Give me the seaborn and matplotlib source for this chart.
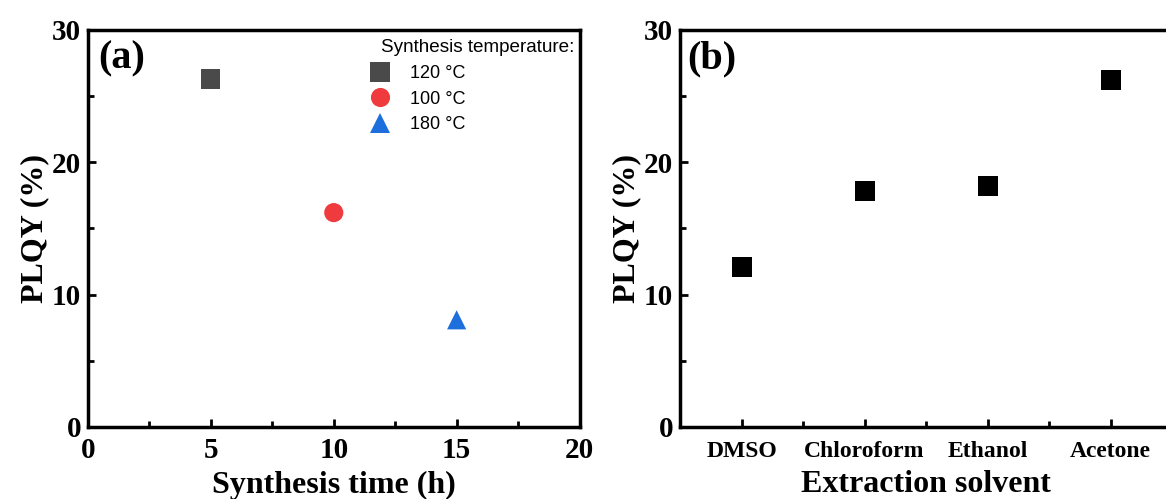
import numpy as np
import pandas as pd
import matplotlib
matplotlib.use("Agg")
import matplotlib.pyplot as plt
from matplotlib.ticker import MultipleLocator
import seaborn as sns

# panel (a): synthesis time vs PLQY
synth_time = [5, 10, 15]
plqy_a = [26.3, 16.2, 8.1]
temps = ["120 \u00b0C", "100 \u00b0C", "180 \u00b0C"]

# panel (b): extraction solvent vs PLQY
solvents = ["DMSO", "Chloroform", "Ethanol", "Acetone"]
plqy_b = [12.1, 17.8, 18.2, 26.2]

sns.set_theme(style="white")
plt.rcParams["font.family"] = ["Liberation Serif", "DejaVu Serif"]
plt.rcParams["text.color"] = "black"
plt.rcParams["axes.labelcolor"] = "black"
plt.rcParams["xtick.color"] = "black"
plt.rcParams["ytick.color"] = "black"

colors = {"120 \u00b0C": "#4a4a4a", "100 \u00b0C": "#ef3b3e", "180 \u00b0C": "#1c6fdc"}
markers = {"120 \u00b0C": "s", "100 \u00b0C": "o", "180 \u00b0C": "^"}
sans = ["Liberation Sans", "DejaVu Sans"]

fig = plt.figure(figsize=(11.66, 4.99), dpi=100)
ax1 = fig.add_axes([0.0755, 0.1443, 0.4215, 0.7956])
ax2 = fig.add_axes([0.5832, 0.1443, 0.4220, 0.7956])

df_a = pd.DataFrame({"time": synth_time, "plqy": plqy_a, "temp": temps})
sns.scatterplot(data=df_a, x="time", y="plqy", hue="temp", style="temp",
                palette=colors, markers=markers, s=190, linewidth=0, ax=ax1)

df_b = pd.DataFrame({"solvent": solvents, "plqy": plqy_b})
sns.scatterplot(data=df_b, x="solvent", y="plqy", marker="s", color="black",
                s=190, linewidth=0, ax=ax2)


def style_axis(ax):
    for sp in ax.spines.values():
        sp.set_linewidth(2.5)
        sp.set_color("black")
    ax.set_ylim(0, 30)
    ax.yaxis.set_major_locator(MultipleLocator(10))
    ax.yaxis.set_minor_locator(MultipleLocator(5))
    ax.tick_params(which="both", direction="in", width=2, colors="black",
                   bottom=True, left=True, top=False, right=False)
    ax.tick_params(which="major", length=6)
    ax.tick_params(which="minor", length=4)
    ax.tick_params(axis="y", which="major", labelsize=21, pad=5)
    for lab in ax.get_yticklabels():
        lab.set_fontweight("bold")
    ax.set_ylabel("PLQY (%)", fontsize=23, fontweight="bold", labelpad=2)


style_axis(ax1)
ax1.set_xlim(0, 20)
ax1.xaxis.set_major_locator(MultipleLocator(5))
ax1.xaxis.set_minor_locator(MultipleLocator(2.5))
ax1.tick_params(axis="x", which="major", labelsize=21, pad=7)
for lab in ax1.get_xticklabels():
    lab.set_fontweight("bold")
ax1.set_xlabel("Synthesis time (h)", fontsize=23, fontweight="bold", labelpad=5)
ax1.text(0.02, 0.975, "(a)", transform=ax1.transAxes, fontsize=29,
         fontweight="bold", va="top", ha="left")

# legend title drawn as its own text so the entries can sit left of it
ax1.text(0.990, 0.977, "Synthesis temperature:", transform=ax1.transAxes,
         fontsize=13.6, family=sans, ha="right", va="top", zorder=10)
leg = ax1.legend(loc="upper left", frameon=False, fontsize=13,
                 bbox_to_anchor=(0.566, 0.912), handlelength=1.5,
                 handletextpad=0.9, labelspacing=0.48,
                 borderaxespad=0, borderpad=0)
for t in leg.get_texts():
    t.set_family(sans)

style_axis(ax2)
ax2.set_xlim(-0.5, 3.5)
ax2.set_xticks(range(len(solvents)))
ax2.set_xticklabels(solvents)
ax2.xaxis.set_minor_locator(MultipleLocator(1, offset=0.5))
ax2.tick_params(axis="x", which="major", labelsize=17, pad=10)
for lab in ax2.get_xticklabels():
    lab.set_fontweight("bold")
ax2.set_xlabel("Extraction solvent", fontsize=23, fontweight="bold", labelpad=6)
ax2.text(0.015, 0.975, "(b)", transform=ax2.transAxes, fontsize=29,
         fontweight="bold", va="top", ha="left")

fig.savefig("out.png", dpi=100)
